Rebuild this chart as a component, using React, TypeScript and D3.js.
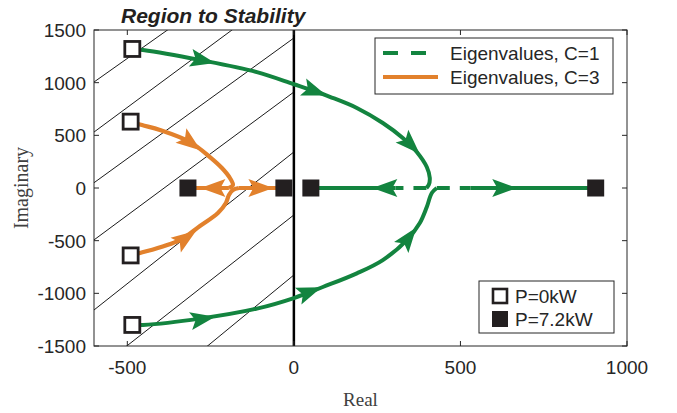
import React from "react";
import * as d3 from "d3";

// ---------- data ----------
const xTicks = [-500, 0, 500, 1000];
const yTicks = [-1500, -1000, -500, 0, 500, 1000, 1500];

// hatch lines of the unstable-to-stable region: y = intercept + slope * x, for x in [-600, 0]
const hatchIntercepts = [2350, 1935, 1424, 911, 342, -256, -826];
const hatchSlopes = [2.24, 2.34, 2.29, 2.34, 2.5, 2.48, 2.6];

// C=1 eigenvalue loci (green)
const greenUpper: [number, number][] = [
  [-485, 1320], [-453, 1310], [-282, 1215], [-111, 1100], [0, 985], [48, 935],
  [108, 866], [189, 760], [267, 617], [327, 475], [369, 342], [399, 199],
  [408, 95], [405, 30], [398, 0], [51, 0],
];
const greenLower: [number, number][] = [
  [-485, -1300], [-453, -1300], [-282, -1240], [-111, -1145], [0, -1045], [87, -940],
  [189, -810], [267, -684], [339, -494], [378, -332], [399, -180], [414, -47],
  [429, 0], [906, 0],
];
// dashed part of the C=1 real-axis branches
const greenDashBounds = [305, 530];

// C=3 eigenvalue loci (orange)
const orangeUpper: [number, number][] = [
  [-490, 630], [-456, 598], [-402, 551], [-312, 437], [-252, 294], [-216, 190],
  [-192, 95], [-183, 28], [-195, 0], [-318, 0],
];
const orangeLower: [number, number][] = [
  [-490, -640], [-462, -617], [-342, -494], [-282, -361], [-228, -237], [-204, -142],
  [-195, -66], [-183, -19], [-165, 0], [-30, 0],
];

// arrow locations (data coordinates) with the branch they follow
const greenArrows: [number, number, string][] = [
  [-273, 1212, "gU"], [63, 918, "gU"], [351, 408, "gU"], [273, 0, "gU"],
  [-273, -1244, "gL"], [48, -985, "gL"], [345, -470, "gL"], [633, 0, "gL"],
];
const orangeArrows: [number, number, string][] = [
  [-309, 427, "oU"], [-243, 0, "oU"], [-324, -475, "oL"], [-99, 0, "oL"],
];

// markers
const openSquares: [number, number][] = [[-485, 1320], [-485, -1300], [-490, 630], [-490, -640]];
const filledSquares: [number, number][] = [[-318, 0], [-30, 0], [51, 0], [906, 0]];

const legendLines = ["Eigenvalues, C=1", "Eigenvalues, C=3"];
const legendMarkers = ["P=0kW", "P=7.2kW"];

// ---------- styles ----------
const GREEN = "#13843f";
const ORANGE = "#e2812c";
const INK = "#231f20";
const AXIS = "#262626";
const SANS = "'Liberation Sans', Arial, Helvetica, sans-serif";
const SERIF = "'Liberation Serif', 'Times New Roman', serif";

const W = 677;
const H = 413;
const L = 94, R = 627, T = 30, B = 346;

const x = d3.scaleLinear().domain([-600, 1000]).range([L, R]);
const y = d3.scaleLinear().domain([-1500, 1500]).range([B, T]);

const branches: Record<string, [number, number][]> = {
  gU: greenUpper, gL: greenLower, oU: orangeUpper, oL: orangeLower,
};

function splitBranch(pts: [number, number][]) {
  const idx = pts.findIndex((p) => p[1] === 0);
  return { curve: pts.slice(0, idx + 1), axis: pts.slice(idx) };
}

const curveGen = d3
  .line<[number, number]>()
  .x((d) => x(d[0]))
  .y((d) => y(d[1]))
  .curve(d3.curveCatmullRom.alpha(0.5));
const linGen = d3
  .line<[number, number]>()
  .x((d) => x(d[0]))
  .y((d) => y(d[1]));

function arrowPath(ax: number, ay: number, key: string) {
  const pts = branches[key].map((p) => [x(p[0]), y(p[1])]);
  const px = x(ax), py = y(ay);
  let best = Infinity, dir = [1, 0];
  for (let i = 0; i < pts.length - 1; i++) {
    const [x0, y0] = pts[i], [x1, y1] = pts[i + 1];
    const dx = x1 - x0, dy = y1 - y0;
    const len2 = dx * dx + dy * dy;
    if (len2 === 0) continue;
    let t = ((px - x0) * dx + (py - y0) * dy) / len2;
    t = Math.max(0, Math.min(1, t));
    const cx = x0 + t * dx, cy = y0 + t * dy;
    const d = (cx - px) ** 2 + (cy - py) ** 2;
    if (d < best) {
      best = d;
      const l = Math.sqrt(len2);
      dir = [dx / l, dy / l];
    }
  }
  const AL = 25, AW = 18;
  const [ux, uy] = dir;
  const nx = -uy, ny = ux;
  const tip = [px + (ux * AL) / 2, py + (uy * AL) / 2];
  const b1 = [px - (ux * AL) / 2 + (nx * AW) / 2, py - (uy * AL) / 2 + (ny * AW) / 2];
  const b2 = [px - (ux * AL) / 2 - (nx * AW) / 2, py - (uy * AL) / 2 - (ny * AW) / 2];
  const m = [px - (ux * AL) / 2 + ux * 5, py - (uy * AL) / 2 + uy * 5];
  return `M${tip[0]},${tip[1]}L${b1[0]},${b1[1]}L${m[0]},${m[1]}L${b2[0]},${b2[1]}Z`;
}

function GreenBranch({ pts }: { pts: [number, number][] }) {
  const { curve, axis } = splitBranch(pts);
  const start = axis[0][0];
  const end = axis[axis.length - 1][0];
  const bound = end < start ? greenDashBounds[0] : greenDashBounds[1];
  const dashed: [number, number][] = [[start, 0], [bound, 0]];
  const solid: [number, number][] = [[bound, 0], [end, 0]];
  return (
    <g fill="none" stroke={GREEN} strokeWidth={4}>
      <path d={curveGen(curve) || ""} strokeLinejoin="round" />
      <path d={linGen(dashed) || ""} strokeDasharray="13 10" />
      <path d={linGen(solid) || ""} />
    </g>
  );
}

function OrangeBranch({ pts }: { pts: [number, number][] }) {
  const { curve, axis } = splitBranch(pts);
  return (
    <g fill="none" stroke={ORANGE} strokeWidth={4.2}>
      <path d={curveGen(curve) || ""} strokeLinejoin="round" />
      <path d={linGen(axis) || ""} />
    </g>
  );
}

export default function App() {
  const tickLen = 5;
  return (
    <svg
      width={W}
      height={H}
      viewBox={`0 0 ${W} ${H}`}
      style={{ position: "absolute", left: 0, top: 0, background: "#fff" }}
    >
      <defs>
        <clipPath id="plotClip">
          <rect x={L} y={T} width={R - L} height={B - T} />
        </clipPath>
        <clipPath id="hatchClip">
          <rect x={L} y={T} width={x(0) - L} height={B - T} />
        </clipPath>
      </defs>
      <rect x={L} y={T} width={R - L} height={B - T} fill="#fff" />

      {/* hatch */}
      <g clipPath="url(#hatchClip)" stroke="#000" strokeWidth={0.9}>
        {hatchIntercepts.map((b, i) => (
          <line
            key={i}
            x1={x(-650)}
            y1={y(b + hatchSlopes[i] * -650)}
            x2={x(0)}
            y2={y(b)}
          />
        ))}
      </g>

      {/* imaginary axis (stability border) */}
      <line x1={x(0)} x2={x(0)} y1={T} y2={B} stroke="#000" strokeWidth={2.5} />

      {/* loci */}
      <g clipPath="url(#plotClip)">
        <OrangeBranch pts={orangeUpper} />
        <OrangeBranch pts={orangeLower} />
        <GreenBranch pts={greenUpper} />
        <GreenBranch pts={greenLower} />
        {greenArrows.map((a, i) => (
          <path key={"ga" + i} d={arrowPath(a[0], a[1], a[2])} fill={GREEN} />
        ))}
        {orangeArrows.map((a, i) => (
          <path key={"oa" + i} d={arrowPath(a[0], a[1], a[2])} fill={ORANGE} />
        ))}
        {openSquares.map((p, i) => (
          <rect
            key={"os" + i}
            x={x(p[0]) - 7.5}
            y={y(p[1]) - 7.5}
            width={15}
            height={15}
            fill="#fff"
            stroke={INK}
            strokeWidth={2.8}
          />
        ))}
        {filledSquares.map((p, i) => (
          <rect
            key={"fs" + i}
            x={x(p[0]) - 8.5}
            y={y(p[1]) - 8.5}
            width={17}
            height={17}
            fill={INK}
          />
        ))}
      </g>

      {/* axes box and ticks */}
      <rect x={L} y={T} width={R - L} height={B - T} fill="none" stroke={AXIS} strokeWidth={1} />
      <g stroke={AXIS} strokeWidth={1}>
        {xTicks.map((t) => (
          <g key={"xt" + t}>
            <line x1={x(t)} x2={x(t)} y1={B} y2={B - tickLen} />
            <line x1={x(t)} x2={x(t)} y1={T} y2={T + tickLen} />
          </g>
        ))}
        {yTicks.map((t) => (
          <g key={"yt" + t}>
            <line x1={L} x2={L + tickLen} y1={y(t)} y2={y(t)} />
            <line x1={R} x2={R - tickLen} y1={y(t)} y2={y(t)} />
          </g>
        ))}
      </g>
      <g fontFamily={SANS} fontSize={19} fill={AXIS}>
        {xTicks.map((t) => (
          <text key={"xl" + t} x={x(t)} y={B + 28} textAnchor="middle">
            {t}
          </text>
        ))}
        {yTicks.map((t) => (
          <text key={"yl" + t} x={L - 8} y={y(t) + 7} textAnchor="end">
            {t}
          </text>
        ))}
      </g>

      {/* axis labels */}
      <text x={(L + R) / 2} y={406} textAnchor="middle" fontFamily={SERIF} fontSize={19} fill="#404040">
        Real
      </text>
      <text
        transform={`translate(28, ${y(0)}) rotate(-90)`}
        textAnchor="middle"
        fontFamily={SERIF}
        fontSize={20}
        fill="#404040"
      >
        Imaginary
      </text>

      {/* title */}
      <text x={121} y={23} fontFamily={SANS} fontSize={21} fontWeight="bold" fontStyle="italic" fill={INK}>
        Region to Stability
      </text>

      {/* legend: lines */}
      <g>
        <rect x={375} y={38} width={238} height={56} fill="#fff" stroke={AXIS} strokeWidth={1} />
        {legendLines.map((s, i) => (
          <g key={s}>
            <line
              x1={383}
              x2={438}
              y1={53 + i * 24}
              y2={53 + i * 24}
              stroke={i === 0 ? GREEN : ORANGE}
              strokeWidth={4}
              strokeDasharray={i === 0 ? "15 13" : undefined}
            />
            <text x={450} y={53 + i * 24 + 7} fontFamily={SANS} fontSize={19} fill={AXIS}>
              {s}
            </text>
          </g>
        ))}
      </g>

      {/* legend: markers */}
      <g>
        <rect x={479} y={281} width={135} height={52} fill="#fff" stroke={AXIS} strokeWidth={1} />
        {legendMarkers.map((s, i) => (
          <g key={s}>
            {i === 0 ? (
              <rect x={493} y={296 - 7} width={14} height={14} fill="#fff" stroke={INK} strokeWidth={2.6} />
            ) : (
              <rect x={492} y={319 - 8} width={16} height={16} fill={INK} />
            )}
            <text x={515} y={(i === 0 ? 296 : 319) + 7} fontFamily={SANS} fontSize={19} fill={AXIS}>
              {s}
            </text>
          </g>
        ))}
      </g>
    </svg>
  );
}
